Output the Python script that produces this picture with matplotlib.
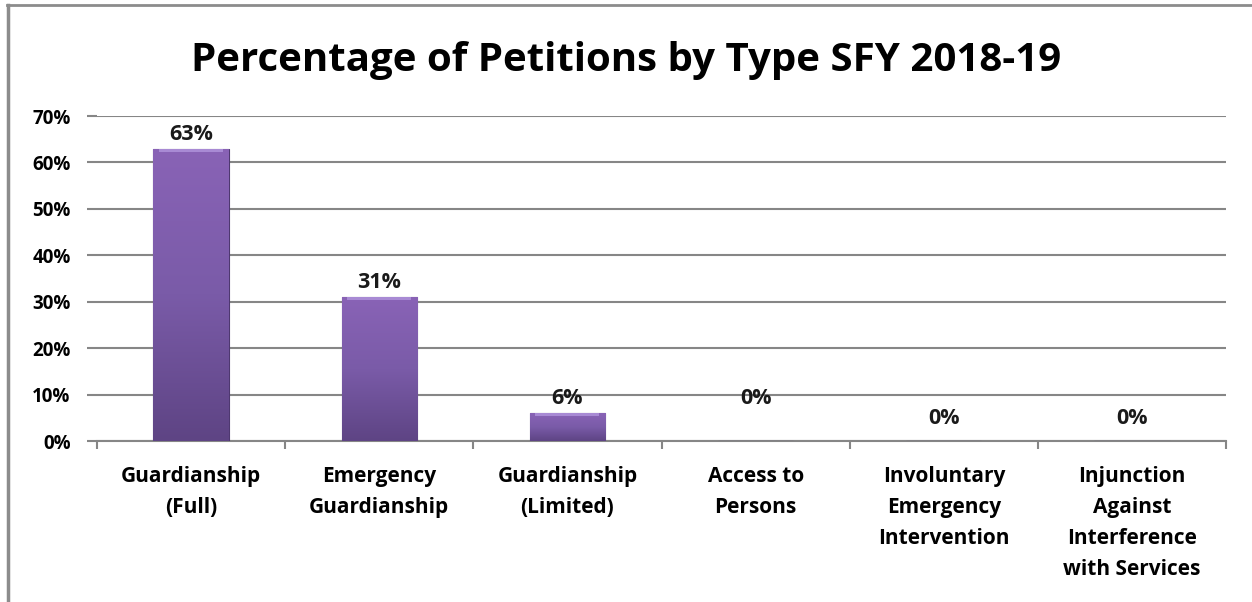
import matplotlib.pyplot as plt
import numpy as np
from matplotlib.lines import Line2D
from matplotlib.ticker import PercentFormatter

plt.rcParams['font.family'] = ['Open Sans', 'DejaVu Sans']

categories = ['Guardianship\n(Full)', 'Emergency\nGuardianship', 'Guardianship\n(Limited)',
              'Access to\nPersons', 'Involuntary\nEmergency\nIntervention',
              'Injunction\nAgainst\nInterference\nwith Services']
percentages = [63, 31, 6, 0, 0, 0]
value_labels = ['63%', '31%', '6%', '0%', '0%', '0%']
label_offsets = [4, 4, 4, 32, 12, 12]  # pixels above bar top, as placed in the original

fig = plt.figure(figsize=(12.52, 6.02), dpi=100)
ax = fig.add_axes([0.0775, 0.2674, 0.9018, 0.5399])

x = np.arange(len(categories))
bars = ax.bar(x, percentages, width=0.4, color='#7457A0', edgecolor='#4E3870', linewidth=0.8, zorder=3)

# vertical gradient + light bevel on top of each bar
grad = np.linspace(0, 1, 256).reshape(-1, 1)
cmap = plt.matplotlib.colors.LinearSegmentedColormap.from_list('purp', ['#5E4484', '#7A5BA8', '#8963B6'])
for b in bars:
    h = b.get_height()
    if h <= 0:
        continue
    x0, w = b.get_x(), b.get_width()
    im = ax.imshow(grad, extent=[x0, x0 + w, 0, h], origin='lower', cmap=cmap,
                   aspect='auto', zorder=4)
    im.set_clip_path(b)
    ax.fill_between([x0 + 0.03, x0 + w - 0.03], h - 0.7, h, color='#A88AD4', zorder=5, linewidth=0)

for b, lab, off in zip(bars, value_labels, label_offsets):
    ax.annotate(lab, (b.get_x() + b.get_width() / 2, b.get_height()),
                xytext=(0, off), textcoords='offset pixels', ha='center', va='bottom',
                fontsize=15.5, fontweight='bold', color='#1a1a1a', zorder=6)

ax.set_xlim(-0.5, len(categories) - 0.5)
ax.set_ylim(0, 70)
ax.set_yticks(range(0, 71, 10))
ax.yaxis.set_major_formatter(PercentFormatter(decimals=0))
ax.set_xticks(x)
ax.set_xticklabels(categories, fontsize=15, fontweight='bold', linespacing=1.62)
ax.set_xticks(np.arange(-0.5, len(categories)), minor=True)
ax.tick_params(axis='x', which='major', length=0, pad=18)
ax.tick_params(axis='x', which='minor', length=6, color='#868686', width=1.5)
ax.tick_params(axis='y', length=7, color='#868686', width=1.5, labelsize=13.5, pad=12)
for t in ax.get_yticklabels():
    t.set_fontweight('bold')

ax.grid(axis='y', color='#868686', linewidth=1.5, zorder=0)
for s in ['top', 'right']:
    ax.spines[s].set_visible(False)
ax.spines['left'].set_visible(False)
ax.spines['bottom'].set_color('#868686')
ax.spines['bottom'].set_linewidth(1.5)

fig.text(0.5, 0.9, 'Percentage of Petitions by Type SFY 2018-19', ha='center', va='center',
         fontsize=29, fontweight='bold', color='black')

# outer chart frame (top and left edges visible)
fig.add_artist(Line2D([0.0056, 1.0], [0.9917, 0.9917], transform=fig.transFigure, color='#8c8c8c', linewidth=2))
fig.add_artist(Line2D([0.0064, 0.0064], [0.0, 0.9917], transform=fig.transFigure, color='#8c8c8c', linewidth=2.5))

fig.savefig('out.png', dpi=100)
